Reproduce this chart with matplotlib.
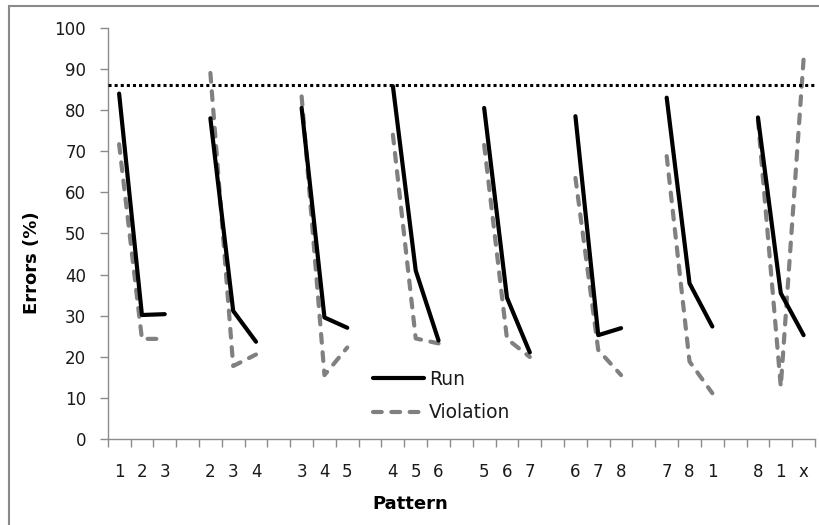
import numpy as np
import matplotlib
matplotlib.use("Agg")
import matplotlib.pyplot as plt
from matplotlib.patches import Rectangle

plt.rcParams['font.family'] = ['DejaVu Sans']

# ---- data ----
groups = [["1", "2", "3"], ["2", "3", "4"], ["3", "4", "5"], ["4", "5", "6"],
          ["5", "6", "7"], ["6", "7", "8"], ["7", "8", "1"], ["8", "1", "x"]]
run_values = [[84, 30.2, 30.4], [78, 31.2, 23.7], [80.5, 29.6, 27.1], [85.8, 41.0, 24.0],
              [80.5, 34.4, 21.1], [78.5, 25.3, 27.0], [83.0, 37.9, 27.4], [78.2, 35.5, 25.3]]
violation_values = [[71.7, 24.4, 24.4], [89, 17.8, 20.6], [83.3, 15.6, 22.3], [74, 24.5, 23.3],
                    [71.5, 24.4, 20.0], [63.5, 21.7, 15.6], [68.8, 18.9, 11.2], [77.6, 12.8, 92.4]]
threshold = 86
y_ticks = list(range(0, 101, 10))

# build category sequence with an empty category between groups
labels, run, viol = [], [], []
for i, g in enumerate(groups):
    labels += g
    run += run_values[i]
    viol += violation_values[i]
    if i < len(groups) - 1:
        labels.append("")
        run.append(np.nan)
        viol.append(np.nan)
x = np.arange(len(labels))

fig = plt.figure(figsize=(8.2, 5.25), dpi=100)
ax = fig.add_axes([107.7 / 820, 85.7 / 525, (815 - 107.7) / 820, (439.3 - 27.7) / 525])

ax.plot(x, run, color='black', lw=3.0, solid_capstyle='round', solid_joinstyle='round',
        label='Run', zorder=3)
ax.plot(x, viol, color='#808080', lw=3.0, linestyle=(0, (2.1, 2.3)),
        dash_capstyle='round', dash_joinstyle='round', label='Violation', zorder=2)
ax.axhline(threshold, color='black', lw=2.2, linestyle=(0, (1, 1)), zorder=4)

ax.set_xlim(-0.5, len(labels) - 0.5)
ax.set_ylim(0, 100)
ax.set_yticks(y_ticks)
ax.set_xticks(x)
ax.set_xticklabels(labels)
ax.set_xticks(np.arange(-0.5, len(labels), 1.0), minor=True)

for s in ['top', 'right']:
    ax.spines[s].set_visible(False)
for s in ['left', 'bottom']:
    ax.spines[s].set_color('#8c8c8c')
    ax.spines[s].set_linewidth(1.0)

ax.tick_params(axis='y', direction='out', length=5.5, width=1.0, color='#8c8c8c',
               pad=10, labelsize=12, labelcolor='#1a1a1a')
ax.tick_params(axis='x', which='major', length=0, pad=17, labelsize=12, labelcolor='#1a1a1a')
ax.tick_params(axis='x', which='minor', direction='out', length=5.5, width=1.0, color='#8c8c8c')

ax.set_ylabel('Errors (%)', fontsize=13, fontweight='bold')
ax.set_xlabel('Pattern', fontsize=13, fontweight='bold')
ax.yaxis.set_label_coords(41 / 820, 0.5, transform=fig.transFigure)
ax.xaxis.set_label_coords(0.5, (525 - 495) / 525, transform=fig.transFigure)

leg = ax.legend(loc='upper left', bbox_to_anchor=(372.7 / 820, (525 - 370) / 525),
                bbox_transform=fig.transFigure, frameon=False, fontsize=13.5,
                handlelength=2.75, handletextpad=0.25, labelspacing=0.75,
                borderpad=0, borderaxespad=0)
for t in leg.get_texts():
    t.set_color('#1a1a1a')

# chart-area border (cropped on the right and bottom)
fig.patches.append(Rectangle((9 / 820, -0.2), 1.2, (525 - 6) / 525 + 0.2,
                             transform=fig.transFigure, fill=False,
                             edgecolor='#8a8a8a', lw=1.5, clip_on=False))

fig.savefig('out.png', dpi=100)
